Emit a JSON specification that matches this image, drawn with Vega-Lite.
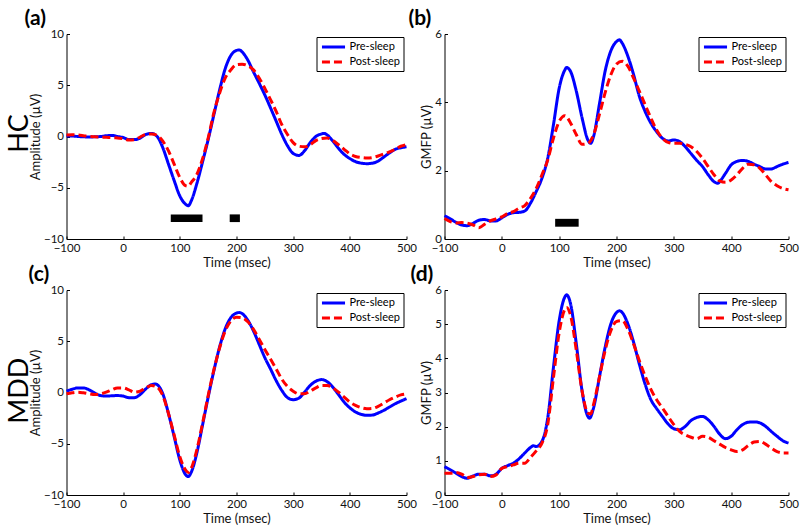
{
  "$schema": "https://vega.github.io/schema/vega-lite/v6.json",
  "background": "white",
  "padding": {"left": 5.5, "top": 8, "right": 5, "bottom": 5},
  "config": {
    "font": "Lato",
    "view": {"stroke": null},
    "axis": {
      "grid": false,
      "domainColor": "black",
      "tickColor": "black",
      "tickSize": -3,
      "labelPadding": 6,
      "labelOverlap": false,
      "labelColor": "#111",
      "titleColor": "#111",
      "labelFont": "Lato",
      "titleFont": "Lato",
      "labelFontSize": 11.5,
      "titleFontSize": 13,
      "titleFontWeight": "normal"
    },
    "axisY": {"titlePadding": 1},
    "axisX": {"titlePadding": 3, "labelFlush": false},
    "title": {"font": "Lato", "color": "black", "frame": "group"}
  },
  "datasets": {
    "a": [
      {"t": -100, "v": 0.06, "s": "Pre-sleep"}, {"t": -90, "v": 0.05, "s": "Pre-sleep"}, {"t": -80, "v": 0.0, "s": "Pre-sleep"}, {"t": -70, "v": -0.03, "s": "Pre-sleep"}, {"t": -60, "v": -0.05, "s": "Pre-sleep"}, {"t": -50, "v": -0.03, "s": "Pre-sleep"}, {"t": -40, "v": 0.0, "s": "Pre-sleep"}, {"t": -30, "v": 0.07, "s": "Pre-sleep"}, {"t": -20, "v": 0.1, "s": "Pre-sleep"}, {"t": -10, "v": 0.0, "s": "Pre-sleep"}, {"t": 0, "v": -0.1, "s": "Pre-sleep"}, {"t": 10, "v": -0.3, "s": "Pre-sleep"}, {"t": 20, "v": -0.3, "s": "Pre-sleep"}, {"t": 30, "v": -0.15, "s": "Pre-sleep"}, {"t": 40, "v": 0.2, "s": "Pre-sleep"}, {"t": 50, "v": 0.3, "s": "Pre-sleep"}, {"t": 60, "v": 0.0, "s": "Pre-sleep"}, {"t": 70, "v": -1.1, "s": "Pre-sleep"}, {"t": 80, "v": -2.7, "s": "Pre-sleep"}, {"t": 90, "v": -4.3, "s": "Pre-sleep"}, {"t": 100, "v": -5.8, "s": "Pre-sleep"}, {"t": 110, "v": -6.6, "s": "Pre-sleep"}, {"t": 115, "v": -6.75, "s": "Pre-sleep"}, {"t": 120, "v": -6.3, "s": "Pre-sleep"}, {"t": 130, "v": -4.6, "s": "Pre-sleep"}, {"t": 140, "v": -2.5, "s": "Pre-sleep"}, {"t": 150, "v": -0.3, "s": "Pre-sleep"}, {"t": 160, "v": 2.1, "s": "Pre-sleep"}, {"t": 170, "v": 4.5, "s": "Pre-sleep"}, {"t": 180, "v": 6.6, "s": "Pre-sleep"}, {"t": 190, "v": 7.9, "s": "Pre-sleep"}, {"t": 200, "v": 8.4, "s": "Pre-sleep"}, {"t": 205, "v": 8.45, "s": "Pre-sleep"}, {"t": 210, "v": 8.25, "s": "Pre-sleep"}, {"t": 220, "v": 7.45, "s": "Pre-sleep"}, {"t": 230, "v": 6.3, "s": "Pre-sleep"}, {"t": 240, "v": 5.2, "s": "Pre-sleep"}, {"t": 250, "v": 4.05, "s": "Pre-sleep"}, {"t": 260, "v": 2.8, "s": "Pre-sleep"}, {"t": 270, "v": 1.5, "s": "Pre-sleep"}, {"t": 280, "v": 0.2, "s": "Pre-sleep"}, {"t": 290, "v": -0.9, "s": "Pre-sleep"}, {"t": 300, "v": -1.65, "s": "Pre-sleep"}, {"t": 310, "v": -1.85, "s": "Pre-sleep"}, {"t": 320, "v": -1.4, "s": "Pre-sleep"}, {"t": 330, "v": -0.6, "s": "Pre-sleep"}, {"t": 340, "v": 0.0, "s": "Pre-sleep"}, {"t": 350, "v": 0.25, "s": "Pre-sleep"}, {"t": 355, "v": 0.3, "s": "Pre-sleep"}, {"t": 360, "v": 0.15, "s": "Pre-sleep"}, {"t": 370, "v": -0.45, "s": "Pre-sleep"}, {"t": 380, "v": -1.15, "s": "Pre-sleep"}, {"t": 390, "v": -1.75, "s": "Pre-sleep"}, {"t": 400, "v": -2.15, "s": "Pre-sleep"}, {"t": 410, "v": -2.45, "s": "Pre-sleep"}, {"t": 420, "v": -2.6, "s": "Pre-sleep"}, {"t": 430, "v": -2.65, "s": "Pre-sleep"}, {"t": 440, "v": -2.6, "s": "Pre-sleep"}, {"t": 450, "v": -2.4, "s": "Pre-sleep"}, {"t": 460, "v": -2.0, "s": "Pre-sleep"}, {"t": 470, "v": -1.6, "s": "Pre-sleep"}, {"t": 480, "v": -1.25, "s": "Pre-sleep"}, {"t": 490, "v": -1.1, "s": "Pre-sleep"}, {"t": 500, "v": -1.0, "s": "Pre-sleep"},
      {"t": -100, "v": 0.15, "s": "Post-sleep"}, {"t": -90, "v": 0.17, "s": "Post-sleep"}, {"t": -80, "v": 0.15, "s": "Post-sleep"}, {"t": -70, "v": 0.08, "s": "Post-sleep"}, {"t": -60, "v": 0.0, "s": "Post-sleep"}, {"t": -50, "v": -0.03, "s": "Post-sleep"}, {"t": -40, "v": -0.05, "s": "Post-sleep"}, {"t": -30, "v": -0.08, "s": "Post-sleep"}, {"t": -20, "v": -0.1, "s": "Post-sleep"}, {"t": -10, "v": -0.15, "s": "Post-sleep"}, {"t": 0, "v": -0.2, "s": "Post-sleep"}, {"t": 10, "v": -0.35, "s": "Post-sleep"}, {"t": 20, "v": -0.3, "s": "Post-sleep"}, {"t": 30, "v": -0.05, "s": "Post-sleep"}, {"t": 40, "v": 0.2, "s": "Post-sleep"}, {"t": 50, "v": 0.25, "s": "Post-sleep"}, {"t": 60, "v": 0.1, "s": "Post-sleep"}, {"t": 70, "v": -0.45, "s": "Post-sleep"}, {"t": 80, "v": -1.4, "s": "Post-sleep"}, {"t": 90, "v": -2.7, "s": "Post-sleep"}, {"t": 100, "v": -4.0, "s": "Post-sleep"}, {"t": 110, "v": -4.8, "s": "Post-sleep"}, {"t": 115, "v": -4.85, "s": "Post-sleep"}, {"t": 120, "v": -4.5, "s": "Post-sleep"}, {"t": 130, "v": -3.7, "s": "Post-sleep"}, {"t": 140, "v": -2.2, "s": "Post-sleep"}, {"t": 150, "v": -0.15, "s": "Post-sleep"}, {"t": 160, "v": 2.3, "s": "Post-sleep"}, {"t": 170, "v": 4.2, "s": "Post-sleep"}, {"t": 180, "v": 5.7, "s": "Post-sleep"}, {"t": 190, "v": 6.5, "s": "Post-sleep"}, {"t": 200, "v": 7.0, "s": "Post-sleep"}, {"t": 210, "v": 7.05, "s": "Post-sleep"}, {"t": 220, "v": 6.9, "s": "Post-sleep"}, {"t": 230, "v": 6.5, "s": "Post-sleep"}, {"t": 240, "v": 5.7, "s": "Post-sleep"}, {"t": 250, "v": 4.7, "s": "Post-sleep"}, {"t": 260, "v": 3.6, "s": "Post-sleep"}, {"t": 270, "v": 2.45, "s": "Post-sleep"}, {"t": 280, "v": 1.15, "s": "Post-sleep"}, {"t": 290, "v": 0.2, "s": "Post-sleep"}, {"t": 300, "v": -0.6, "s": "Post-sleep"}, {"t": 310, "v": -0.95, "s": "Post-sleep"}, {"t": 320, "v": -1.0, "s": "Post-sleep"}, {"t": 330, "v": -0.8, "s": "Post-sleep"}, {"t": 340, "v": -0.4, "s": "Post-sleep"}, {"t": 350, "v": -0.2, "s": "Post-sleep"}, {"t": 360, "v": -0.15, "s": "Post-sleep"}, {"t": 370, "v": -0.4, "s": "Post-sleep"}, {"t": 380, "v": -0.8, "s": "Post-sleep"}, {"t": 390, "v": -1.25, "s": "Post-sleep"}, {"t": 400, "v": -1.7, "s": "Post-sleep"}, {"t": 410, "v": -1.95, "s": "Post-sleep"}, {"t": 420, "v": -2.05, "s": "Post-sleep"}, {"t": 430, "v": -2.1, "s": "Post-sleep"}, {"t": 440, "v": -2.05, "s": "Post-sleep"}, {"t": 450, "v": -1.9, "s": "Post-sleep"}, {"t": 460, "v": -1.7, "s": "Post-sleep"}, {"t": 470, "v": -1.5, "s": "Post-sleep"}, {"t": 480, "v": -1.25, "s": "Post-sleep"}, {"t": 490, "v": -0.95, "s": "Post-sleep"}, {"t": 500, "v": -0.8, "s": "Post-sleep"}
    ],
    "b": [
      {"t": -100, "v": 0.68, "s": "Pre-sleep"}, {"t": -90, "v": 0.59, "s": "Pre-sleep"}, {"t": -80, "v": 0.49, "s": "Pre-sleep"}, {"t": -70, "v": 0.41, "s": "Pre-sleep"}, {"t": -60, "v": 0.39, "s": "Pre-sleep"}, {"t": -50, "v": 0.46, "s": "Pre-sleep"}, {"t": -40, "v": 0.55, "s": "Pre-sleep"}, {"t": -30, "v": 0.57, "s": "Pre-sleep"}, {"t": -20, "v": 0.53, "s": "Pre-sleep"}, {"t": -10, "v": 0.53, "s": "Pre-sleep"}, {"t": 0, "v": 0.62, "s": "Pre-sleep"}, {"t": 10, "v": 0.72, "s": "Pre-sleep"}, {"t": 20, "v": 0.77, "s": "Pre-sleep"}, {"t": 30, "v": 0.78, "s": "Pre-sleep"}, {"t": 40, "v": 0.82, "s": "Pre-sleep"}, {"t": 50, "v": 1.05, "s": "Pre-sleep"}, {"t": 60, "v": 1.39, "s": "Pre-sleep"}, {"t": 70, "v": 1.78, "s": "Pre-sleep"}, {"t": 80, "v": 2.36, "s": "Pre-sleep"}, {"t": 90, "v": 3.34, "s": "Pre-sleep"}, {"t": 100, "v": 4.41, "s": "Pre-sleep"}, {"t": 110, "v": 4.95, "s": "Pre-sleep"}, {"t": 113, "v": 5.02, "s": "Pre-sleep"}, {"t": 120, "v": 4.9, "s": "Pre-sleep"}, {"t": 130, "v": 4.32, "s": "Pre-sleep"}, {"t": 140, "v": 3.54, "s": "Pre-sleep"}, {"t": 150, "v": 2.9, "s": "Pre-sleep"}, {"t": 155, "v": 2.8, "s": "Pre-sleep"}, {"t": 160, "v": 3.0, "s": "Pre-sleep"}, {"t": 170, "v": 3.93, "s": "Pre-sleep"}, {"t": 180, "v": 4.9, "s": "Pre-sleep"}, {"t": 190, "v": 5.5, "s": "Pre-sleep"}, {"t": 200, "v": 5.78, "s": "Pre-sleep"}, {"t": 205, "v": 5.83, "s": "Pre-sleep"}, {"t": 210, "v": 5.73, "s": "Pre-sleep"}, {"t": 220, "v": 5.34, "s": "Pre-sleep"}, {"t": 230, "v": 4.8, "s": "Pre-sleep"}, {"t": 240, "v": 4.17, "s": "Pre-sleep"}, {"t": 250, "v": 3.73, "s": "Pre-sleep"}, {"t": 260, "v": 3.39, "s": "Pre-sleep"}, {"t": 270, "v": 3.14, "s": "Pre-sleep"}, {"t": 280, "v": 2.95, "s": "Pre-sleep"}, {"t": 290, "v": 2.87, "s": "Pre-sleep"}, {"t": 300, "v": 2.9, "s": "Pre-sleep"}, {"t": 310, "v": 2.85, "s": "Pre-sleep"}, {"t": 320, "v": 2.7, "s": "Pre-sleep"}, {"t": 330, "v": 2.5, "s": "Pre-sleep"}, {"t": 340, "v": 2.3, "s": "Pre-sleep"}, {"t": 350, "v": 2.12, "s": "Pre-sleep"}, {"t": 360, "v": 1.88, "s": "Pre-sleep"}, {"t": 370, "v": 1.68, "s": "Pre-sleep"}, {"t": 377, "v": 1.63, "s": "Pre-sleep"}, {"t": 380, "v": 1.68, "s": "Pre-sleep"}, {"t": 390, "v": 1.92, "s": "Pre-sleep"}, {"t": 400, "v": 2.17, "s": "Pre-sleep"}, {"t": 410, "v": 2.27, "s": "Pre-sleep"}, {"t": 420, "v": 2.3, "s": "Pre-sleep"}, {"t": 430, "v": 2.27, "s": "Pre-sleep"}, {"t": 440, "v": 2.19, "s": "Pre-sleep"}, {"t": 450, "v": 2.12, "s": "Pre-sleep"}, {"t": 460, "v": 2.05, "s": "Pre-sleep"}, {"t": 470, "v": 2.05, "s": "Pre-sleep"}, {"t": 480, "v": 2.12, "s": "Pre-sleep"}, {"t": 490, "v": 2.19, "s": "Pre-sleep"}, {"t": 500, "v": 2.24, "s": "Pre-sleep"},
      {"t": -100, "v": 0.6, "s": "Post-sleep"}, {"t": -90, "v": 0.51, "s": "Post-sleep"}, {"t": -80, "v": 0.47, "s": "Post-sleep"}, {"t": -70, "v": 0.48, "s": "Post-sleep"}, {"t": -60, "v": 0.46, "s": "Post-sleep"}, {"t": -50, "v": 0.41, "s": "Post-sleep"}, {"t": -40, "v": 0.33, "s": "Post-sleep"}, {"t": -30, "v": 0.43, "s": "Post-sleep"}, {"t": -20, "v": 0.53, "s": "Post-sleep"}, {"t": -10, "v": 0.59, "s": "Post-sleep"}, {"t": 0, "v": 0.65, "s": "Post-sleep"}, {"t": 10, "v": 0.75, "s": "Post-sleep"}, {"t": 20, "v": 0.8, "s": "Post-sleep"}, {"t": 30, "v": 0.9, "s": "Post-sleep"}, {"t": 40, "v": 0.98, "s": "Post-sleep"}, {"t": 50, "v": 1.19, "s": "Post-sleep"}, {"t": 60, "v": 1.48, "s": "Post-sleep"}, {"t": 70, "v": 1.88, "s": "Post-sleep"}, {"t": 80, "v": 2.31, "s": "Post-sleep"}, {"t": 90, "v": 2.95, "s": "Post-sleep"}, {"t": 100, "v": 3.44, "s": "Post-sleep"}, {"t": 110, "v": 3.61, "s": "Post-sleep"}, {"t": 120, "v": 3.39, "s": "Post-sleep"}, {"t": 130, "v": 3.05, "s": "Post-sleep"}, {"t": 140, "v": 2.77, "s": "Post-sleep"}, {"t": 150, "v": 2.8, "s": "Post-sleep"}, {"t": 160, "v": 3.05, "s": "Post-sleep"}, {"t": 170, "v": 3.63, "s": "Post-sleep"}, {"t": 180, "v": 4.27, "s": "Post-sleep"}, {"t": 190, "v": 4.8, "s": "Post-sleep"}, {"t": 200, "v": 5.12, "s": "Post-sleep"}, {"t": 210, "v": 5.2, "s": "Post-sleep"}, {"t": 220, "v": 5.05, "s": "Post-sleep"}, {"t": 230, "v": 4.7, "s": "Post-sleep"}, {"t": 240, "v": 4.32, "s": "Post-sleep"}, {"t": 250, "v": 3.93, "s": "Post-sleep"}, {"t": 260, "v": 3.54, "s": "Post-sleep"}, {"t": 270, "v": 3.19, "s": "Post-sleep"}, {"t": 280, "v": 2.95, "s": "Post-sleep"}, {"t": 290, "v": 2.83, "s": "Post-sleep"}, {"t": 300, "v": 2.8, "s": "Post-sleep"}, {"t": 310, "v": 2.8, "s": "Post-sleep"}, {"t": 320, "v": 2.77, "s": "Post-sleep"}, {"t": 330, "v": 2.7, "s": "Post-sleep"}, {"t": 340, "v": 2.56, "s": "Post-sleep"}, {"t": 350, "v": 2.36, "s": "Post-sleep"}, {"t": 360, "v": 2.12, "s": "Post-sleep"}, {"t": 370, "v": 1.88, "s": "Post-sleep"}, {"t": 380, "v": 1.7, "s": "Post-sleep"}, {"t": 390, "v": 1.66, "s": "Post-sleep"}, {"t": 400, "v": 1.73, "s": "Post-sleep"}, {"t": 410, "v": 1.88, "s": "Post-sleep"}, {"t": 420, "v": 2.07, "s": "Post-sleep"}, {"t": 430, "v": 2.19, "s": "Post-sleep"}, {"t": 440, "v": 2.17, "s": "Post-sleep"}, {"t": 450, "v": 2.07, "s": "Post-sleep"}, {"t": 460, "v": 1.88, "s": "Post-sleep"}, {"t": 470, "v": 1.68, "s": "Post-sleep"}, {"t": 480, "v": 1.56, "s": "Post-sleep"}, {"t": 490, "v": 1.48, "s": "Post-sleep"}, {"t": 500, "v": 1.44, "s": "Post-sleep"}
    ],
    "c": [
      {"t": -100, "v": 0.13, "s": "Pre-sleep"}, {"t": -90, "v": 0.32, "s": "Pre-sleep"}, {"t": -80, "v": 0.45, "s": "Pre-sleep"}, {"t": -70, "v": 0.45, "s": "Pre-sleep"}, {"t": -60, "v": 0.26, "s": "Pre-sleep"}, {"t": -50, "v": -0.06, "s": "Pre-sleep"}, {"t": -40, "v": -0.3, "s": "Pre-sleep"}, {"t": -30, "v": -0.35, "s": "Pre-sleep"}, {"t": -20, "v": -0.32, "s": "Pre-sleep"}, {"t": -10, "v": -0.3, "s": "Pre-sleep"}, {"t": 0, "v": -0.35, "s": "Pre-sleep"}, {"t": 10, "v": -0.5, "s": "Pre-sleep"}, {"t": 20, "v": -0.5, "s": "Pre-sleep"}, {"t": 30, "v": -0.2, "s": "Pre-sleep"}, {"t": 40, "v": 0.35, "s": "Pre-sleep"}, {"t": 50, "v": 0.77, "s": "Pre-sleep"}, {"t": 57, "v": 0.84, "s": "Pre-sleep"}, {"t": 60, "v": 0.77, "s": "Pre-sleep"}, {"t": 70, "v": -0.13, "s": "Pre-sleep"}, {"t": 80, "v": -2.06, "s": "Pre-sleep"}, {"t": 90, "v": -4.3, "s": "Pre-sleep"}, {"t": 100, "v": -6.6, "s": "Pre-sleep"}, {"t": 110, "v": -8.0, "s": "Pre-sleep"}, {"t": 115, "v": -8.2, "s": "Pre-sleep"}, {"t": 120, "v": -7.8, "s": "Pre-sleep"}, {"t": 130, "v": -5.9, "s": "Pre-sleep"}, {"t": 140, "v": -3.2, "s": "Pre-sleep"}, {"t": 150, "v": -0.45, "s": "Pre-sleep"}, {"t": 160, "v": 2.1, "s": "Pre-sleep"}, {"t": 170, "v": 4.4, "s": "Pre-sleep"}, {"t": 180, "v": 6.2, "s": "Pre-sleep"}, {"t": 190, "v": 7.3, "s": "Pre-sleep"}, {"t": 200, "v": 7.75, "s": "Pre-sleep"}, {"t": 205, "v": 7.8, "s": "Pre-sleep"}, {"t": 210, "v": 7.7, "s": "Pre-sleep"}, {"t": 220, "v": 7.05, "s": "Pre-sleep"}, {"t": 230, "v": 6.0, "s": "Pre-sleep"}, {"t": 240, "v": 4.7, "s": "Pre-sleep"}, {"t": 250, "v": 3.4, "s": "Pre-sleep"}, {"t": 260, "v": 2.3, "s": "Pre-sleep"}, {"t": 270, "v": 1.16, "s": "Pre-sleep"}, {"t": 280, "v": 0.2, "s": "Pre-sleep"}, {"t": 290, "v": -0.5, "s": "Pre-sleep"}, {"t": 300, "v": -0.7, "s": "Pre-sleep"}, {"t": 310, "v": -0.55, "s": "Pre-sleep"}, {"t": 320, "v": 0.03, "s": "Pre-sleep"}, {"t": 330, "v": 0.68, "s": "Pre-sleep"}, {"t": 340, "v": 1.1, "s": "Pre-sleep"}, {"t": 350, "v": 1.26, "s": "Pre-sleep"}, {"t": 360, "v": 1.06, "s": "Pre-sleep"}, {"t": 370, "v": 0.52, "s": "Pre-sleep"}, {"t": 380, "v": -0.2, "s": "Pre-sleep"}, {"t": 390, "v": -0.94, "s": "Pre-sleep"}, {"t": 400, "v": -1.5, "s": "Pre-sleep"}, {"t": 410, "v": -1.9, "s": "Pre-sleep"}, {"t": 420, "v": -2.13, "s": "Pre-sleep"}, {"t": 430, "v": -2.23, "s": "Pre-sleep"}, {"t": 440, "v": -2.2, "s": "Pre-sleep"}, {"t": 450, "v": -2.0, "s": "Pre-sleep"}, {"t": 460, "v": -1.74, "s": "Pre-sleep"}, {"t": 470, "v": -1.42, "s": "Pre-sleep"}, {"t": 480, "v": -1.1, "s": "Pre-sleep"}, {"t": 490, "v": -0.84, "s": "Pre-sleep"}, {"t": 500, "v": -0.6, "s": "Pre-sleep"},
      {"t": -100, "v": -0.13, "s": "Post-sleep"}, {"t": -90, "v": -0.03, "s": "Post-sleep"}, {"t": -80, "v": 0.03, "s": "Post-sleep"}, {"t": -70, "v": -0.03, "s": "Post-sleep"}, {"t": -60, "v": -0.13, "s": "Post-sleep"}, {"t": -50, "v": -0.2, "s": "Post-sleep"}, {"t": -40, "v": -0.13, "s": "Post-sleep"}, {"t": -30, "v": 0.03, "s": "Post-sleep"}, {"t": -20, "v": 0.26, "s": "Post-sleep"}, {"t": -10, "v": 0.45, "s": "Post-sleep"}, {"t": 0, "v": 0.45, "s": "Post-sleep"}, {"t": 10, "v": 0.26, "s": "Post-sleep"}, {"t": 20, "v": 0.03, "s": "Post-sleep"}, {"t": 30, "v": 0.13, "s": "Post-sleep"}, {"t": 40, "v": 0.45, "s": "Post-sleep"}, {"t": 50, "v": 0.68, "s": "Post-sleep"}, {"t": 60, "v": 0.52, "s": "Post-sleep"}, {"t": 70, "v": -0.3, "s": "Post-sleep"}, {"t": 80, "v": -2.06, "s": "Post-sleep"}, {"t": 90, "v": -4.16, "s": "Post-sleep"}, {"t": 100, "v": -6.26, "s": "Post-sleep"}, {"t": 110, "v": -7.55, "s": "Post-sleep"}, {"t": 115, "v": -7.8, "s": "Post-sleep"}, {"t": 120, "v": -7.4, "s": "Post-sleep"}, {"t": 130, "v": -5.6, "s": "Post-sleep"}, {"t": 140, "v": -3.03, "s": "Post-sleep"}, {"t": 150, "v": -0.3, "s": "Post-sleep"}, {"t": 160, "v": 2.2, "s": "Post-sleep"}, {"t": 170, "v": 4.32, "s": "Post-sleep"}, {"t": 180, "v": 6.0, "s": "Post-sleep"}, {"t": 190, "v": 6.97, "s": "Post-sleep"}, {"t": 200, "v": 7.35, "s": "Post-sleep"}, {"t": 210, "v": 7.3, "s": "Post-sleep"}, {"t": 220, "v": 6.9, "s": "Post-sleep"}, {"t": 230, "v": 6.16, "s": "Post-sleep"}, {"t": 240, "v": 5.2, "s": "Post-sleep"}, {"t": 250, "v": 4.2, "s": "Post-sleep"}, {"t": 260, "v": 3.26, "s": "Post-sleep"}, {"t": 270, "v": 2.3, "s": "Post-sleep"}, {"t": 280, "v": 1.3, "s": "Post-sleep"}, {"t": 290, "v": 0.58, "s": "Post-sleep"}, {"t": 300, "v": 0.13, "s": "Post-sleep"}, {"t": 310, "v": -0.13, "s": "Post-sleep"}, {"t": 320, "v": -0.13, "s": "Post-sleep"}, {"t": 330, "v": 0.13, "s": "Post-sleep"}, {"t": 340, "v": 0.45, "s": "Post-sleep"}, {"t": 350, "v": 0.68, "s": "Post-sleep"}, {"t": 360, "v": 0.68, "s": "Post-sleep"}, {"t": 370, "v": 0.45, "s": "Post-sleep"}, {"t": 380, "v": 0.03, "s": "Post-sleep"}, {"t": 390, "v": -0.45, "s": "Post-sleep"}, {"t": 400, "v": -0.94, "s": "Post-sleep"}, {"t": 410, "v": -1.26, "s": "Post-sleep"}, {"t": 420, "v": -1.48, "s": "Post-sleep"}, {"t": 430, "v": -1.58, "s": "Post-sleep"}, {"t": 440, "v": -1.55, "s": "Post-sleep"}, {"t": 450, "v": -1.35, "s": "Post-sleep"}, {"t": 460, "v": -1.03, "s": "Post-sleep"}, {"t": 470, "v": -0.71, "s": "Post-sleep"}, {"t": 480, "v": -0.45, "s": "Post-sleep"}, {"t": 490, "v": -0.23, "s": "Post-sleep"}, {"t": 500, "v": -0.13, "s": "Post-sleep"}
    ],
    "d": [
      {"t": -100, "v": 0.83, "s": "Pre-sleep"}, {"t": -90, "v": 0.74, "s": "Pre-sleep"}, {"t": -80, "v": 0.64, "s": "Pre-sleep"}, {"t": -70, "v": 0.54, "s": "Pre-sleep"}, {"t": -60, "v": 0.49, "s": "Pre-sleep"}, {"t": -50, "v": 0.56, "s": "Pre-sleep"}, {"t": -40, "v": 0.61, "s": "Pre-sleep"}, {"t": -30, "v": 0.61, "s": "Pre-sleep"}, {"t": -20, "v": 0.56, "s": "Pre-sleep"}, {"t": -10, "v": 0.61, "s": "Pre-sleep"}, {"t": 0, "v": 0.78, "s": "Pre-sleep"}, {"t": 10, "v": 0.86, "s": "Pre-sleep"}, {"t": 20, "v": 0.93, "s": "Pre-sleep"}, {"t": 30, "v": 1.06, "s": "Pre-sleep"}, {"t": 40, "v": 1.23, "s": "Pre-sleep"}, {"t": 50, "v": 1.39, "s": "Pre-sleep"}, {"t": 55, "v": 1.44, "s": "Pre-sleep"}, {"t": 60, "v": 1.42, "s": "Pre-sleep"}, {"t": 70, "v": 1.57, "s": "Pre-sleep"}, {"t": 80, "v": 2.25, "s": "Pre-sleep"}, {"t": 90, "v": 3.73, "s": "Pre-sleep"}, {"t": 100, "v": 5.1, "s": "Pre-sleep"}, {"t": 110, "v": 5.8, "s": "Pre-sleep"}, {"t": 113, "v": 5.86, "s": "Pre-sleep"}, {"t": 120, "v": 5.59, "s": "Pre-sleep"}, {"t": 130, "v": 4.41, "s": "Pre-sleep"}, {"t": 140, "v": 3.04, "s": "Pre-sleep"}, {"t": 150, "v": 2.3, "s": "Pre-sleep"}, {"t": 153, "v": 2.25, "s": "Pre-sleep"}, {"t": 160, "v": 2.55, "s": "Pre-sleep"}, {"t": 170, "v": 3.43, "s": "Pre-sleep"}, {"t": 180, "v": 4.31, "s": "Pre-sleep"}, {"t": 190, "v": 5.0, "s": "Pre-sleep"}, {"t": 200, "v": 5.34, "s": "Pre-sleep"}, {"t": 205, "v": 5.39, "s": "Pre-sleep"}, {"t": 210, "v": 5.34, "s": "Pre-sleep"}, {"t": 220, "v": 5.0, "s": "Pre-sleep"}, {"t": 230, "v": 4.46, "s": "Pre-sleep"}, {"t": 240, "v": 3.82, "s": "Pre-sleep"}, {"t": 250, "v": 3.24, "s": "Pre-sleep"}, {"t": 260, "v": 2.79, "s": "Pre-sleep"}, {"t": 270, "v": 2.53, "s": "Pre-sleep"}, {"t": 280, "v": 2.3, "s": "Pre-sleep"}, {"t": 290, "v": 2.08, "s": "Pre-sleep"}, {"t": 300, "v": 1.94, "s": "Pre-sleep"}, {"t": 310, "v": 1.91, "s": "Pre-sleep"}, {"t": 320, "v": 2.01, "s": "Pre-sleep"}, {"t": 330, "v": 2.18, "s": "Pre-sleep"}, {"t": 340, "v": 2.27, "s": "Pre-sleep"}, {"t": 350, "v": 2.3, "s": "Pre-sleep"}, {"t": 360, "v": 2.2, "s": "Pre-sleep"}, {"t": 370, "v": 2.01, "s": "Pre-sleep"}, {"t": 380, "v": 1.78, "s": "Pre-sleep"}, {"t": 390, "v": 1.65, "s": "Pre-sleep"}, {"t": 400, "v": 1.72, "s": "Pre-sleep"}, {"t": 410, "v": 1.91, "s": "Pre-sleep"}, {"t": 420, "v": 2.06, "s": "Pre-sleep"}, {"t": 430, "v": 2.13, "s": "Pre-sleep"}, {"t": 440, "v": 2.14, "s": "Pre-sleep"}, {"t": 450, "v": 2.11, "s": "Pre-sleep"}, {"t": 460, "v": 2.01, "s": "Pre-sleep"}, {"t": 470, "v": 1.86, "s": "Pre-sleep"}, {"t": 480, "v": 1.72, "s": "Pre-sleep"}, {"t": 490, "v": 1.59, "s": "Pre-sleep"}, {"t": 500, "v": 1.52, "s": "Pre-sleep"},
      {"t": -100, "v": 0.64, "s": "Post-sleep"}, {"t": -90, "v": 0.64, "s": "Post-sleep"}, {"t": -80, "v": 0.66, "s": "Post-sleep"}, {"t": -70, "v": 0.61, "s": "Post-sleep"}, {"t": -60, "v": 0.51, "s": "Post-sleep"}, {"t": -50, "v": 0.54, "s": "Post-sleep"}, {"t": -40, "v": 0.59, "s": "Post-sleep"}, {"t": -30, "v": 0.61, "s": "Post-sleep"}, {"t": -20, "v": 0.54, "s": "Post-sleep"}, {"t": -10, "v": 0.59, "s": "Post-sleep"}, {"t": 0, "v": 0.78, "s": "Post-sleep"}, {"t": 10, "v": 0.83, "s": "Post-sleep"}, {"t": 20, "v": 0.88, "s": "Post-sleep"}, {"t": 30, "v": 0.93, "s": "Post-sleep"}, {"t": 40, "v": 0.93, "s": "Post-sleep"}, {"t": 50, "v": 1.1, "s": "Post-sleep"}, {"t": 60, "v": 1.29, "s": "Post-sleep"}, {"t": 70, "v": 1.52, "s": "Post-sleep"}, {"t": 80, "v": 2.06, "s": "Post-sleep"}, {"t": 90, "v": 3.43, "s": "Post-sleep"}, {"t": 100, "v": 4.75, "s": "Post-sleep"}, {"t": 110, "v": 5.44, "s": "Post-sleep"}, {"t": 113, "v": 5.49, "s": "Post-sleep"}, {"t": 120, "v": 5.25, "s": "Post-sleep"}, {"t": 130, "v": 4.22, "s": "Post-sleep"}, {"t": 140, "v": 3.04, "s": "Post-sleep"}, {"t": 150, "v": 2.4, "s": "Post-sleep"}, {"t": 155, "v": 2.37, "s": "Post-sleep"}, {"t": 160, "v": 2.65, "s": "Post-sleep"}, {"t": 170, "v": 3.43, "s": "Post-sleep"}, {"t": 180, "v": 4.22, "s": "Post-sleep"}, {"t": 190, "v": 4.8, "s": "Post-sleep"}, {"t": 200, "v": 5.08, "s": "Post-sleep"}, {"t": 210, "v": 5.1, "s": "Post-sleep"}, {"t": 220, "v": 4.85, "s": "Post-sleep"}, {"t": 230, "v": 4.41, "s": "Post-sleep"}, {"t": 240, "v": 3.92, "s": "Post-sleep"}, {"t": 250, "v": 3.48, "s": "Post-sleep"}, {"t": 260, "v": 3.09, "s": "Post-sleep"}, {"t": 270, "v": 2.79, "s": "Post-sleep"}, {"t": 280, "v": 2.55, "s": "Post-sleep"}, {"t": 290, "v": 2.3, "s": "Post-sleep"}, {"t": 300, "v": 2.06, "s": "Post-sleep"}, {"t": 310, "v": 1.86, "s": "Post-sleep"}, {"t": 320, "v": 1.76, "s": "Post-sleep"}, {"t": 330, "v": 1.69, "s": "Post-sleep"}, {"t": 340, "v": 1.65, "s": "Post-sleep"}, {"t": 350, "v": 1.72, "s": "Post-sleep"}, {"t": 360, "v": 1.69, "s": "Post-sleep"}, {"t": 370, "v": 1.59, "s": "Post-sleep"}, {"t": 380, "v": 1.49, "s": "Post-sleep"}, {"t": 390, "v": 1.39, "s": "Post-sleep"}, {"t": 400, "v": 1.32, "s": "Post-sleep"}, {"t": 410, "v": 1.27, "s": "Post-sleep"}, {"t": 420, "v": 1.32, "s": "Post-sleep"}, {"t": 430, "v": 1.45, "s": "Post-sleep"}, {"t": 440, "v": 1.55, "s": "Post-sleep"}, {"t": 450, "v": 1.57, "s": "Post-sleep"}, {"t": 460, "v": 1.49, "s": "Post-sleep"}, {"t": 470, "v": 1.37, "s": "Post-sleep"}, {"t": 480, "v": 1.27, "s": "Post-sleep"}, {"t": 490, "v": 1.23, "s": "Post-sleep"}, {"t": 500, "v": 1.23, "s": "Post-sleep"}
    ],
    "bars_a": [{"t": 84, "t2": 140, "v": -7.6, "v2": -8.35}, {"t": 188, "t2": 206, "v": -7.6, "v2": -8.35}],
    "bars_b": [{"t": 93, "t2": 134, "v": 0.59, "v2": 0.36}],
    "row_hc": [{"t": -182.6, "v": 0.3, "label": "HC"}],
    "row_mdd": [{"t": -182.6, "v": 0.17, "label": "MDD"}]
  },
  "columns": 2,
  "bounds": "flush",
  "spacing": {"row": 51, "column": 38},
  "resolve": {"scale": {"color": "independent", "strokeDash": "independent"}, "legend": {"color": "independent", "strokeDash": "independent"}},
  "concat": [
    {
      "title": {"text": "(a)", "anchor": "start", "dx": -42, "fontSize": 21, "fontWeight": "bold", "offset": -1},
      "width": 340, "height": 205,
      "layer": [
        {"mark": {"type": "rule", "strokeDash": [1.5, 6], "color": "black", "strokeWidth": 1.2}, "encoding": {"x": {"datum": 0, "type": "quantitative"}}},
        {"mark": {"type": "rule", "strokeDash": [1.5, 4.5], "color": "black", "strokeWidth": 1.2}, "encoding": {"y": {"datum": 0, "type": "quantitative"}}},
        {"data": {"name": "bars_a"}, "mark": {"type": "rect", "color": "black"}, "encoding": {"x": {"field": "t", "type": "quantitative"}, "x2": {"field": "t2"}, "y": {"field": "v", "type": "quantitative"}, "y2": {"field": "v2"}}},
        {"data": {"name": "row_hc"}, "mark": {"type": "text", "angle": 270, "fontSize": 27, "font": "Lato", "color": "black", "align": "center", "baseline": "middle"}, "encoding": {"x": {"field": "t", "type": "quantitative"}, "y": {"field": "v", "type": "quantitative"}, "text": {"field": "label"}}},
        {"data": {"name": "a"}, "mark": {"type": "line", "strokeWidth": 3, "interpolate": "monotone"},
         "encoding": {
           "x": {"field": "t", "type": "quantitative", "scale": {"domain": [-100, 500], "nice": false}, "axis": {"title": "Time (msec)", "values": [-100, 0, 100, 200, 300, 400, 500]}},
           "y": {"field": "v", "type": "quantitative", "scale": {"domain": [-10, 10], "nice": false}, "axis": {"title": "Amplitude (µV)", "values": [-10, -5, 0, 5, 10]}},
           "color": {"field": "s", "type": "nominal", "scale": {"domain": ["Pre-sleep", "Post-sleep"], "range": ["#0000ff", "#ff0000"]}, "legend": {"title": null, "orient": "top-right", "offset": 3, "symbolType": "M-2.2,0H2.2", "symbolSize": 110, "symbolStrokeWidth": 3, "labelFontSize": 11, "labelColor": "black", "strokeColor": "black", "fillColor": "white", "padding": 3, "rowPadding": 2, "symbolOffset": 7, "labelOffset": 9}},
           "strokeDash": {"field": "s", "type": "nominal", "scale": {"domain": ["Pre-sleep", "Post-sleep"], "range": [[1, 0], [8, 4]]}, "legend": {"title": null, "orient": "top-right", "offset": 3, "symbolType": "M-2.2,0H2.2", "symbolSize": 110, "symbolStrokeWidth": 3, "labelFontSize": 11, "labelColor": "black", "strokeColor": "black", "fillColor": "white", "padding": 3, "rowPadding": 2, "symbolOffset": 7, "labelOffset": 9}}
         }}
      ]
    },
    {
      "title": {"text": "(b)", "anchor": "start", "dx": -36, "fontSize": 21, "fontWeight": "bold", "offset": -1},
      "width": 344, "height": 205,
      "layer": [
        {"mark": {"type": "rule", "strokeDash": [1.5, 6], "color": "black", "strokeWidth": 1.2}, "encoding": {"x": {"datum": 0, "type": "quantitative"}}},
        {"data": {"name": "bars_b"}, "mark": {"type": "rect", "color": "black"}, "encoding": {"x": {"field": "t", "type": "quantitative"}, "x2": {"field": "t2"}, "y": {"field": "v", "type": "quantitative"}, "y2": {"field": "v2"}}},
        {"data": {"name": "b"}, "mark": {"type": "line", "strokeWidth": 3, "interpolate": "monotone"},
         "encoding": {
           "x": {"field": "t", "type": "quantitative", "scale": {"domain": [-100, 500], "nice": false}, "axis": {"title": "Time (msec)", "values": [-100, 0, 100, 200, 300, 400, 500]}},
           "y": {"field": "v", "type": "quantitative", "scale": {"domain": [0, 6], "nice": false}, "axis": {"title": "GMFP (µV)", "values": [0, 1, 2, 3, 4, 5, 6]}},
           "color": {"field": "s", "type": "nominal", "scale": {"domain": ["Pre-sleep", "Post-sleep"], "range": ["#0000ff", "#ff0000"]}, "legend": {"title": null, "orient": "top-right", "offset": 3, "symbolType": "M-2.2,0H2.2", "symbolSize": 110, "symbolStrokeWidth": 3, "labelFontSize": 11, "labelColor": "black", "strokeColor": "black", "fillColor": "white", "padding": 3, "rowPadding": 2, "symbolOffset": 7, "labelOffset": 9}},
           "strokeDash": {"field": "s", "type": "nominal", "scale": {"domain": ["Pre-sleep", "Post-sleep"], "range": [[1, 0], [8, 4]]}, "legend": {"title": null, "orient": "top-right", "offset": 3, "symbolType": "M-2.2,0H2.2", "symbolSize": 110, "symbolStrokeWidth": 3, "labelFontSize": 11, "labelColor": "black", "strokeColor": "black", "fillColor": "white", "padding": 3, "rowPadding": 2, "symbolOffset": 7, "labelOffset": 9}}
         }}
      ]
    },
    {
      "title": {"text": "(c)", "anchor": "start", "dx": -38, "fontSize": 21, "fontWeight": "bold", "offset": -1},
      "width": 340, "height": 205,
      "layer": [
        {"mark": {"type": "rule", "strokeDash": [1.5, 6], "color": "black", "strokeWidth": 1.2}, "encoding": {"x": {"datum": 0, "type": "quantitative"}}},
        {"mark": {"type": "rule", "strokeDash": [1.5, 4.5], "color": "black", "strokeWidth": 1.2}, "encoding": {"y": {"datum": 0, "type": "quantitative"}}},
        {"data": {"name": "row_mdd"}, "mark": {"type": "text", "angle": 270, "fontSize": 27, "font": "Lato", "color": "black", "align": "center", "baseline": "middle"}, "encoding": {"x": {"field": "t", "type": "quantitative"}, "y": {"field": "v", "type": "quantitative"}, "text": {"field": "label"}}},
        {"data": {"name": "c"}, "mark": {"type": "line", "strokeWidth": 3, "interpolate": "monotone"},
         "encoding": {
           "x": {"field": "t", "type": "quantitative", "scale": {"domain": [-100, 500], "nice": false}, "axis": {"title": "Time (msec)", "values": [-100, 0, 100, 200, 300, 400, 500]}},
           "y": {"field": "v", "type": "quantitative", "scale": {"domain": [-10, 10], "nice": false}, "axis": {"title": "Amplitude (µV)", "values": [-10, -5, 0, 5, 10]}},
           "color": {"field": "s", "type": "nominal", "scale": {"domain": ["Pre-sleep", "Post-sleep"], "range": ["#0000ff", "#ff0000"]}, "legend": {"title": null, "orient": "top-right", "offset": 3, "symbolType": "M-2.2,0H2.2", "symbolSize": 110, "symbolStrokeWidth": 3, "labelFontSize": 11, "labelColor": "black", "strokeColor": "black", "fillColor": "white", "padding": 3, "rowPadding": 2, "symbolOffset": 7, "labelOffset": 9}},
           "strokeDash": {"field": "s", "type": "nominal", "scale": {"domain": ["Pre-sleep", "Post-sleep"], "range": [[1, 0], [8, 4]]}, "legend": {"title": null, "orient": "top-right", "offset": 3, "symbolType": "M-2.2,0H2.2", "symbolSize": 110, "symbolStrokeWidth": 3, "labelFontSize": 11, "labelColor": "black", "strokeColor": "black", "fillColor": "white", "padding": 3, "rowPadding": 2, "symbolOffset": 7, "labelOffset": 9}}
         }}
      ]
    },
    {
      "title": {"text": "(d)", "anchor": "start", "dx": -34, "fontSize": 21, "fontWeight": "bold", "offset": -1},
      "width": 344, "height": 205,
      "layer": [
        {"mark": {"type": "rule", "strokeDash": [1.5, 6], "color": "black", "strokeWidth": 1.2}, "encoding": {"x": {"datum": 0, "type": "quantitative"}}},
        {"data": {"name": "d"}, "mark": {"type": "line", "strokeWidth": 3, "interpolate": "monotone"},
         "encoding": {
           "x": {"field": "t", "type": "quantitative", "scale": {"domain": [-100, 500], "nice": false}, "axis": {"title": "Time (msec)", "values": [-100, 0, 100, 200, 300, 400, 500]}},
           "y": {"field": "v", "type": "quantitative", "scale": {"domain": [0, 6], "nice": false}, "axis": {"title": "GMFP (µV)", "values": [0, 1, 2, 3, 4, 5, 6]}},
           "color": {"field": "s", "type": "nominal", "scale": {"domain": ["Pre-sleep", "Post-sleep"], "range": ["#0000ff", "#ff0000"]}, "legend": {"title": null, "orient": "top-right", "offset": 3, "symbolType": "M-2.2,0H2.2", "symbolSize": 110, "symbolStrokeWidth": 3, "labelFontSize": 11, "labelColor": "black", "strokeColor": "black", "fillColor": "white", "padding": 3, "rowPadding": 2, "symbolOffset": 7, "labelOffset": 9}},
           "strokeDash": {"field": "s", "type": "nominal", "scale": {"domain": ["Pre-sleep", "Post-sleep"], "range": [[1, 0], [8, 4]]}, "legend": {"title": null, "orient": "top-right", "offset": 3, "symbolType": "M-2.2,0H2.2", "symbolSize": 110, "symbolStrokeWidth": 3, "labelFontSize": 11, "labelColor": "black", "strokeColor": "black", "fillColor": "white", "padding": 3, "rowPadding": 2, "symbolOffset": 7, "labelOffset": 9}}
         }}
      ]
    }
  ]
}
